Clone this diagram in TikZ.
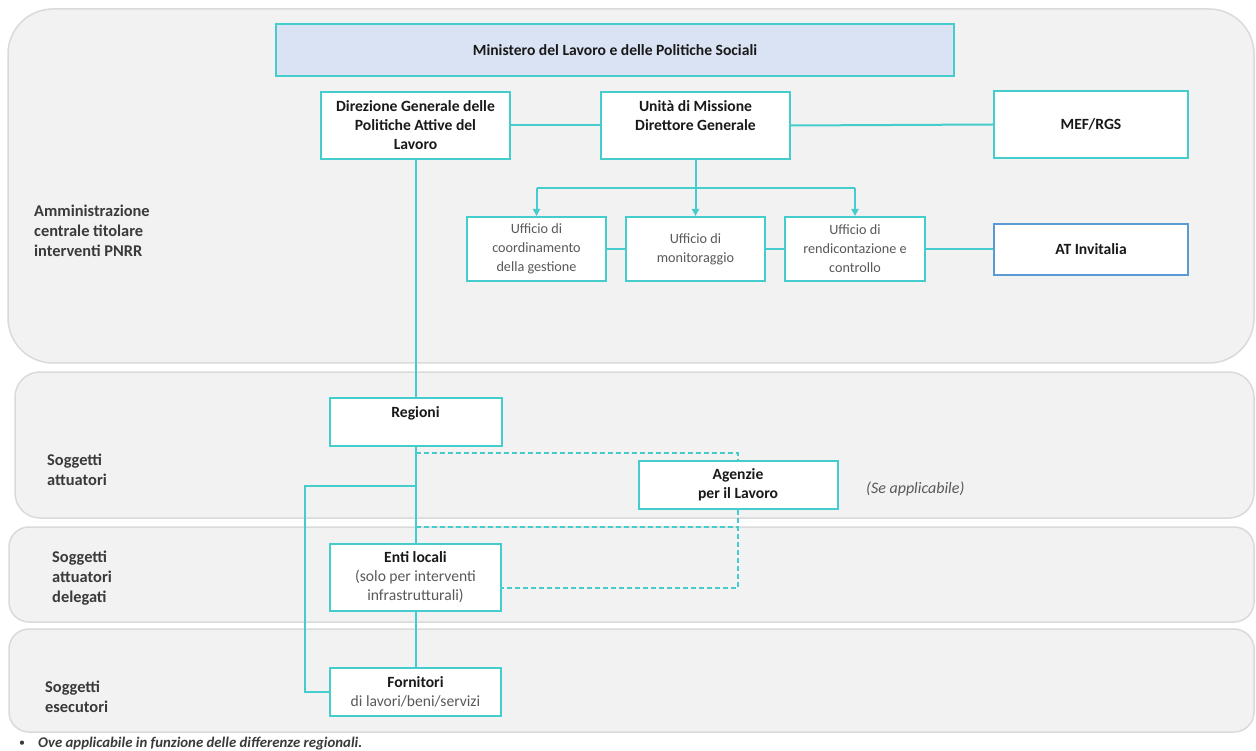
\documentclass[tikz,border=0pt]{standalone}
\usepackage{fontspec}
\setmainfont{Carlito}
\usetikzlibrary{arrows.meta}
\definecolor{tealline}{HTML}{45CDCD}
\definecolor{panelfill}{HTML}{F2F2F2}
\definecolor{paneldraw}{HTML}{DADADA}
\definecolor{minfill}{HTML}{DAE3F3}
\definecolor{atblue}{HTML}{5B9BD5}
\definecolor{greytext}{HTML}{595959}
\definecolor{labeltext}{HTML}{3A3A3A}
\newcommand{\subtxt}[1]{{\mdseries\textcolor{greytext}{#1}}}
\begin{document}
\begin{tikzpicture}[x=1pt,y=-1pt,
  panel/.style={fill=panelfill,draw=paneldraw,line width=1.5pt},
  box/.style={draw=tealline,line width=2pt,fill=white,align=center,inner sep=0pt,
    font=\fontsize{15.6}{19}\selectfont\bfseries,text=black!90},
  ubox/.style={box,font=\fontsize{14.2}{19}\selectfont,text=greytext},
  conn/.style={draw=tealline,line width=2pt},
  dconn/.style={draw=tealline,line width=1.6pt,dash pattern=on 5pt off 3pt},
  tip/.style={-{Triangle[length=7pt,width=7pt]}},
  lbl/.style={anchor=west,align=left,inner sep=0pt,font=\fontsize{16.4}{20}\selectfont\bfseries,text=labeltext}]
\useasboundingbox (0,0) rectangle (1256,751);
\fill[white] (0,0) rectangle (1256,751);
\draw[panel,rounded corners=45pt] (8,9) rectangle (1254,363);
\draw[panel,rounded corners=25pt] (15,372) rectangle (1254,518);
\draw[panel,rounded corners=20pt] (9,527) rectangle (1254,622);
\draw[panel,rounded corners=20pt] (9,629) rectangle (1254,732);
% labels
\node[lbl] (l1) at (34,231) {Amministrazione\\centrale titolare\\interventi PNRR};
\node[lbl] (l2) at (47,470) {Soggetti\\attuatori};
\node[lbl] (l3) at (52,578) {Soggetti\\attuatori\\delegati};
\node[lbl] (l4) at (45,697) {Soggetti\\esecutori};
% boxes
\node[box,fill=minfill,minimum width=678pt,minimum height=52pt] (min) at (615,50) {Ministero del Lavoro e delle Politiche Sociali};
\node[box,minimum width=189pt,minimum height=67pt] (dir) at (415.5,125.5) {Direzione Generale delle\\Politiche Attive del\\Lavoro};
\node[box,minimum width=189pt,minimum height=67pt] (uni) at (695.5,125.5) {Unità di Missione\\Direttore Generale\\~};
\node[box,minimum width=194pt,minimum height=67pt] (mef) at (1091,124.5) {MEF/RGS};
\node[ubox,minimum width=139pt,minimum height=64pt] (coo) at (536.5,249) {Ufficio di\\coordinamento\\della gestione};
\node[ubox,minimum width=139pt,minimum height=64pt] (mon) at (695.5,249) {Ufficio di\\monitoraggio};
\node[ubox,minimum width=140pt,minimum height=64pt] (ren) at (855,249) {Ufficio di\\rendicontazione e\\controllo};
\node[box,draw=atblue,minimum width=194pt,minimum height=51pt] (at) at (1091,249.5) {AT Invitalia};
\node[box,minimum width=172pt,minimum height=48pt] (reg) at (415.5,422) {Regioni\\~};
\node[box,minimum width=199pt,minimum height=48pt] (age) at (738,485) {Agenzie\\per il Lavoro};
\node[anchor=west,inner sep=0pt,font=\fontsize{16}{18}\selectfont\itshape,text=greytext] (se) at (866,489) {(Se applicabile)};
\node[box,minimum width=171pt,minimum height=67pt] (ent) at (415.5,577.5) {Enti locali\\\subtxt{(solo per interventi}\\\subtxt{infrastrutturali)}};
\node[box,minimum width=171pt,minimum height=48pt] (for) at (415.5,692) {Fornitori\\\subtxt{di lavori/beni/servizi}};
% footnote
\node[anchor=west,inner sep=0pt,font=\fontsize{12}{13}\selectfont,text=labeltext] (bul) at (19,744) {•};
\node[anchor=west,inner sep=0pt,font=\fontsize{14.8}{15}\selectfont\bfseries\itshape,text=labeltext] (foot) at (38,744) {Ove applicabile in funzione delle differenze regionali.};
% coordinates
\coordinate (busl) at (536.5,188);
\coordinate (busr) at (855,188);
\coordinate (brj) at (415.5,486);
\coordinate (brl) at (305,486);
\coordinate (brb) at (305,692);
\coordinate (d1) at (415.5,453);
\coordinate (d2) at (738,453);
\coordinate (d3) at (415.5,527);
\coordinate (d4) at (738,527);
\coordinate (d5) at (738,588);
% connectors
\draw[conn] (dir.east) -- (dir.east -| uni.west);
\draw[conn] (uni.east) -- (mef.west);
\draw[conn,tip] (uni.south) -- (uni.south |- mon.north);
\draw[conn] (busl) -- (busr);
\draw[conn,tip] (busl) -- (busl |- coo.north);
\draw[conn,tip] (busr) -- (busr |- ren.north);
\draw[conn] (coo.east) -- (coo.east -| mon.west);
\draw[conn] (mon.east) -- (mon.east -| ren.west);
\draw[conn] (ren.east) -- (ren.east -| at.west);
\draw[conn] (dir.south) -- (dir.south |- reg.north);
\draw[conn] (reg.south) -- (reg.south |- ent.north);
\draw[conn] (ent.south) -- (ent.south |- for.north);
\draw[conn] (brj) -- (brl) -- (brb) -- (for.west);
\draw[dconn] (d1) -- (d2) -- (age.north);
\draw[dconn] (d3) -- (d4);
\draw[dconn] (age.south) -- (d5) -- (d5 -| ent.east);
\end{tikzpicture}
\end{document}
